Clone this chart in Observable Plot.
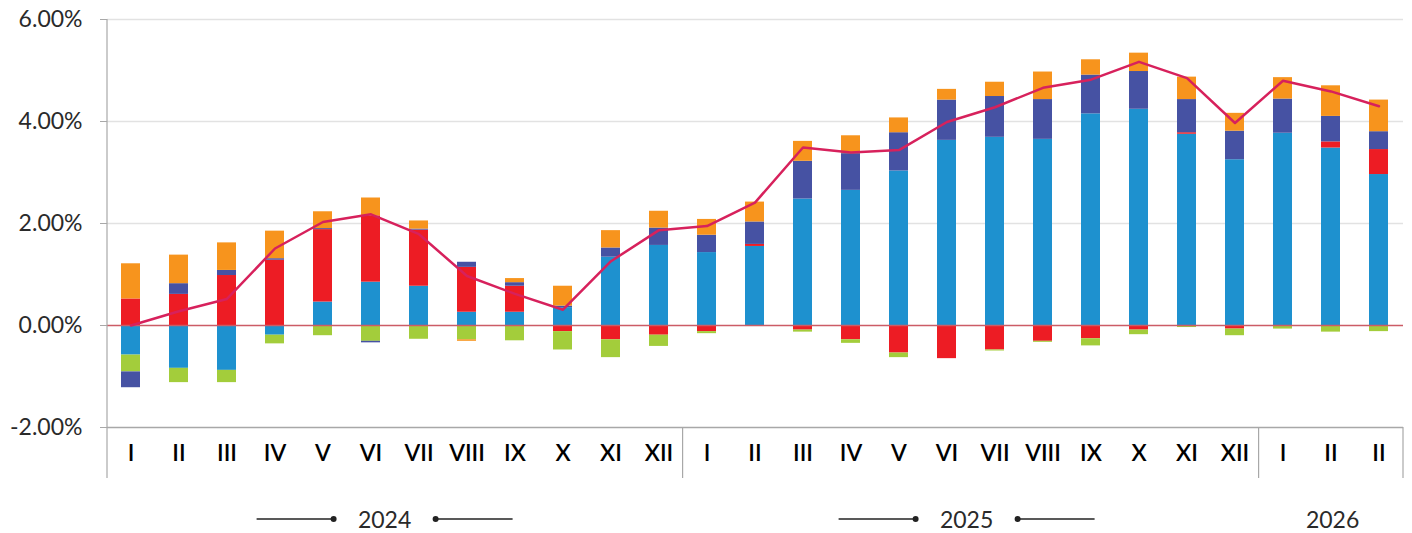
<!DOCTYPE html>
<html><head><meta charset="utf-8">
<script src="https://cdn.jsdelivr.net/npm/d3@7"></script>
<script src="https://cdn.jsdelivr.net/npm/@observablehq/plot@0.6"></script>
<style>body{margin:0;background:#fff;} #chart svg{display:block;}</style>
</head><body><div id="chart"></div>
<script>
// ---- data ----
const years  = ["2024","2024","2024","2024","2024","2024","2024","2024","2024","2024","2024","2024",
                "2025","2025","2025","2025","2025","2025","2025","2025","2025","2025","2025","2025",
                "2026","2026","2026"];
const months = ["I","II","III","IV","V","VI","VII","VIII","IX","X","XI","XII",
                "I","II","III","IV","V","VI","VII","VIII","IX","X","XI","XII",
                "I","II","II"];
const seriesNames = ["Series A","Series B","Series C","Series D","Series E"];
const seriesA = [-0.58,-0.84,-0.88,-0.19,0.46,0.85,0.77,0.26,0.26,0.35,1.34,1.57,
                 1.43,1.55,2.48,2.65,3.03,3.63,3.69,3.65,4.15,4.24,3.75,3.25,
                 3.77,3.48,2.96];
const seriesB = [0.52,0.61,0.98,1.28,1.42,1.30,1.10,0.88,0.51,-0.12,-0.28,-0.19,
                 -0.12,0.04,-0.09,-0.28,-0.54,-0.65,-0.48,-0.31,-0.26,-0.09,0.03,-0.07,
                 -0.02,0.12,0.49];
const seriesC = [-0.33,-0.28,-0.24,-0.17,-0.20,-0.31,-0.27,-0.28,-0.30,-0.36,-0.35,-0.22,
                 -0.04,-0.02,-0.04,-0.07,-0.09,0,-0.02,-0.02,-0.14,-0.09,-0.04,-0.13,
                 -0.05,-0.13,-0.12];
const seriesD = [-0.31,0.21,0.10,0.03,0.02,-0.03,0.02,0.10,0.07,0.03,0.18,0.34,
                 0.34,0.44,0.74,0.72,0.75,0.79,0.80,0.78,0.76,0.74,0.65,0.56,
                 0.67,0.50,0.35];
const seriesE = [0.69,0.56,0.54,0.54,0.33,0.35,0.16,-0.03,0.08,0.39,0.34,0.33,
                 0.31,0.39,0.39,0.35,0.29,0.21,0.28,0.54,0.30,0.36,0.44,0.35,
                 0.42,0.60,0.62];
const total   = [0.00,0.28,0.52,1.51,2.03,2.18,1.79,0.97,0.62,0.31,1.26,1.87,
                 1.95,2.41,3.49,3.39,3.44,3.99,4.28,4.66,4.82,5.17,4.85,3.97,
                 4.80,4.59,4.30];
const yTicks = [-2,0,2,4,6];
const colors = ["#1e91cf","#ed1c24","#a3cd3b","#4652a3","#f7941d"];

// ---- build tables ----
const keys = years.map((y,i)=> y + "-" + i);
const labelOf = new Map(keys.map((k,i)=>[k, months[i]]));
const seriesVals = [seriesA,seriesB,seriesC,seriesD,seriesE];
const bars = [];
keys.forEach((k,i)=>{ seriesNames.forEach((s,j)=>{ bars.push({key:k, series:s, value:seriesVals[j][i]}); }); });
const line = keys.map((k,i)=>({key:k, value: total[i]}));

const PAD_OUTER = 0.3;
const FONT = "Lato, 'Open Sans', sans-serif";
const yearShift = {"2024": -10, "2025": -4, "2026": 2};

function decorations(index, scales, values, dimensions) {
  const x = scales.x, y = scales.y;
  const step = x(keys[1]) - x(keys[0]);
  const left = dimensions.marginLeft, right = dimensions.width - dimensions.marginRight;
  const yBase = y(-2), yBottom = yBase + 51, yTop = y(6);
  const g = d3.create("svg:g");
  g.append("line").attr("x1",left).attr("x2",left).attr("y1",yTop).attr("y2",yBottom)
    .attr("stroke","#a8a8a8").attr("stroke-width",1.2);
  const groups = d3.groups(keys.map((k,i)=>({k,y:years[i]})), d=>d.y);
  groups.forEach(([yr, arr], gi)=>{
    const x0 = x(arr[0].k) - step*PAD_OUTER;
    const x1 = x(arr[arr.length-1].k) - step*PAD_OUTER + step;
    if (gi>0) g.append("line").attr("x1",x0).attr("x2",x0).attr("y1",yBase).attr("y2",yBottom)
      .attr("stroke","#a8a8a8").attr("stroke-width",1.2);
    if (gi===groups.length-1) g.append("line").attr("x1",right).attr("x2",right).attr("y1",yBase).attr("y2",yBottom)
      .attr("stroke","#a8a8a8").attr("stroke-width",1.2);
    const cx = (x0 + Math.min(x1,right))/2 + (yearShift[yr] || 0);
    const ty = dimensions.height - 5;
    g.append("text").attr("x",cx).attr("y",ty).attr("text-anchor","middle")
      .attr("font-family",FONT).attr("font-size",23).attr("fill","#2a2a2a").text(yr);
    if (arr.length >= 12) {
      [-1,1].forEach(s=>{
        g.append("line").attr("x1",cx + s*51).attr("x2",cx + s*128).attr("y1",ty-9).attr("y2",ty-9)
          .attr("stroke","#222").attr("stroke-width",1.5);
        g.append("circle").attr("cx",cx + s*51).attr("cy",ty-9).attr("r",3).attr("fill","#222");
      });
    }
  });
  return g.node();
}

const chart = Plot.plot({
  width: 1412, height: 533,
  marginLeft: 107, marginRight: 9, marginTop: 19, marginBottom: 106,
  style: {fontFamily: FONT, fontSize: "23px", background: "#fff"},
  x: {type: "band", domain: keys, paddingInner: 0.6, paddingOuter: PAD_OUTER, align: 0.5},
  y: {domain: [-2, 6]},
  color: {domain: seriesNames, range: colors},
  marks: [
    Plot.gridY(yTicks.filter(d=>d>0), {stroke: "#e2e2e2", strokeOpacity: 1, strokeWidth: 1.5}),
    Plot.ruleY([-2], {stroke: "#a8a8a8", strokeWidth: 1.5}),
    Plot.barY(bars, {x: "key", y: "value", fill: "series"}),
    Plot.ruleY([0], {stroke: "#cc5c66", strokeWidth: 1.5}),
    Plot.lineY(line, {x: "key", y: "value", stroke: "#d7215c", strokeWidth: 2.5}),
    Plot.axisY({ticks: yTicks, tickSize: 7, tickPadding: 18, tickFormat: d => d.toFixed(2) + "%",
      stroke: "#a8a8a8", fill: "#2a2a2a", fontSize: 23, label: null}),
    Plot.axisX({tickSize: 0, tickPadding: 17, tickFormat: k => labelOf.get(k), fill: "#000", fontSize: 23, fontWeight: 600, label: null}),
    decorations
  ]
});
document.getElementById("chart").append(chart);
</script>
</body></html>
